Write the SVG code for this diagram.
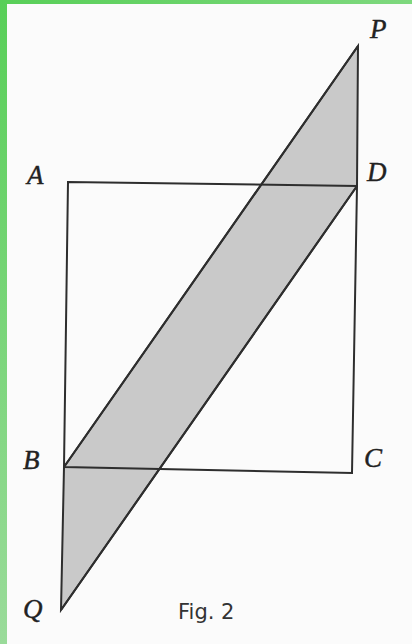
<svg xmlns="http://www.w3.org/2000/svg" width="412" height="644" viewBox="0 0 412 644">
<defs>
<linearGradient id="gTop" x1="0" y1="0" x2="1" y2="0"><stop offset="0" stop-color="#58cf58"/><stop offset="1" stop-color="#7ed87e"/></linearGradient>
<linearGradient id="gLeft" x1="0" y1="0" x2="0" y2="1"><stop offset="0" stop-color="#58cf58"/><stop offset="1" stop-color="#9adb9a"/></linearGradient>
</defs>
<style>
.ln{stroke:#2e2e2e;stroke-width:2;fill:none;stroke-linejoin:miter}
.sh{fill:#c9c9c9;stroke:#2e2e2e;stroke-width:2}
.lb{font-family:"Liberation Serif",serif;font-style:italic;font-size:27px;fill:#222;stroke:#222;stroke-width:0.4}
.cap{font-family:"DejaVu Sans","Liberation Sans",sans-serif;font-size:21px;fill:#333}
</style>
<rect x="0" y="0" width="412" height="644" fill="#fbfbfb"/>
<rect x="0" y="0" width="412" height="4" fill="url(#gTop)"/>
<rect x="0" y="0" width="7" height="644" fill="url(#gLeft)"/>
<g id="shaded">
<polygon class="sh" points="358,46 357,186 61,610 64,467"/>
</g>
<g id="square">
<polygon class="ln" points="68,182 357,186 352,473 64,467"/>
</g>
<g id="connectors">
<line class="ln" x1="358" y1="46" x2="64" y2="467"/>
<line class="ln" x1="357" y1="186" x2="61" y2="610"/>
</g>
<g id="labels">
<text class="lb" x="370" y="38">P</text>
<text class="lb" x="27" y="184">A</text>
<text class="lb" x="367" y="181">D</text>
<text class="lb" x="23" y="469">B</text>
<text class="lb" x="364" y="467">C</text>
<text class="lb" x="23" y="618">Q</text>
<text class="cap" x="178" y="619">Fig. 2</text>
</g>
</svg>
